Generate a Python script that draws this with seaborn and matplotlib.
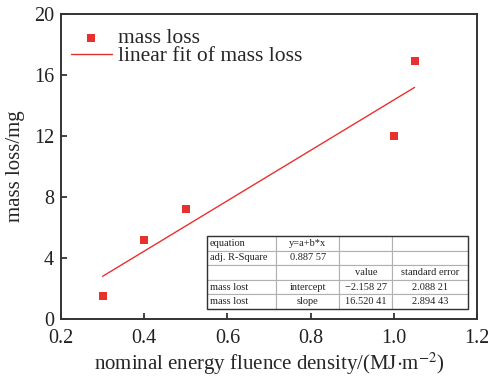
import numpy as np
import pandas as pd
import matplotlib
matplotlib.use('Agg')
import matplotlib.pyplot as plt
import seaborn as sns

# データ
energy = [0.30, 0.40, 0.50, 1.00, 1.05]
mass_loss = [1.5, 5.2, 7.2, 12.0, 16.9]
intercept = -2.15827
slope = 16.52041

table_rows = [
    ['equation', 'y=a+b*x', '', ''],
    ['adj. R-Square', '0.887 57', '', ''],
    ['', '', 'value', 'standard error'],
    ['mass lost', 'intercept', '\u22122.158 27', '2.088 21'],
    ['mass lost', 'slope', '16.520 41', '2.894 43'],
]

RED = '#e8312f'

sns.set_theme(style='ticks')
plt.rcParams['font.family'] = ['Liberation Serif', 'DejaVu Serif']
plt.rcParams['mathtext.fontset'] = 'stix'

df = pd.DataFrame({'x': energy, 'y': mass_loss})
fit_x = np.array([min(energy), max(energy)])
fit_df = pd.DataFrame({'x': fit_x, 'y': intercept + slope * fit_x})

fig = plt.figure(figsize=(4.88, 3.79), dpi=100)
ax = fig.add_axes([61 / 488, 60 / 379, 416 / 488, 305 / 379])

sns.scatterplot(data=df, x='x', y='y', marker='s', s=32, color=RED,
                edgecolor='none', ax=ax, label='mass loss', zorder=3)
sns.lineplot(data=fit_df, x='x', y='y', color=RED, lw=1.0, ax=ax,
             label='linear fit of mass loss')

ax.set_xlim(0.2, 1.2)
ax.set_ylim(0, 20)
ax.set_xticks(np.arange(0.2, 1.21, 0.2))
ax.set_xticklabels(['0.2', '0.4', '0.6', '0.8', '1.0', '1.2'])
ax.set_yticks(np.arange(0, 21, 4))
ax.tick_params(direction='in', length=4, width=1.2, labelsize=14.5, colors='#222222')
ax.tick_params(axis='x', pad=7)
ax.tick_params(axis='y', pad=5)
for sp in ax.spines.values():
    sp.set_linewidth(1.4)
    sp.set_color('#333333')
ax.set_xlabel('nominal energy fluence density/(MJ$\\cdot$m$^{-2}$)', fontsize=15, labelpad=2)
ax.set_ylabel('mass loss/mg', fontsize=15, labelpad=6)

ax.legend(loc='upper left', bbox_to_anchor=(0.0, 0.985), frameon=False,
          fontsize=15.5, handlelength=1.9, handletextpad=0.3,
          borderaxespad=0.15, borderpad=0.3, labelspacing=-0.1)

# 統計表
tbl = ax.table(cellText=table_rows, cellLoc='center',
               colWidths=[69, 64, 53, 76],
               bbox=[0.351, 0.033, 0.627, 0.239])
tbl.auto_set_font_size(False)
tbl.set_fontsize(7.5)
for (r, c), cell in tbl.get_celld().items():
    cell.set_edgecolor('#b0b0b0')
    cell.set_linewidth(0.8)
    cell.set_facecolor('white')
    cell.get_text().set_color('#222222')
    if c == 0:
        cell.set_text_props(ha='left')
        cell._loc = 'left'
        cell.PAD = 0.04
# 外枠
ax.add_patch(plt.Rectangle((0.351, 0.033), 0.627, 0.239, transform=ax.transAxes,
                           fill=False, edgecolor='#333333', lw=1.0, zorder=5))

fig.savefig('out.png', dpi=100)
